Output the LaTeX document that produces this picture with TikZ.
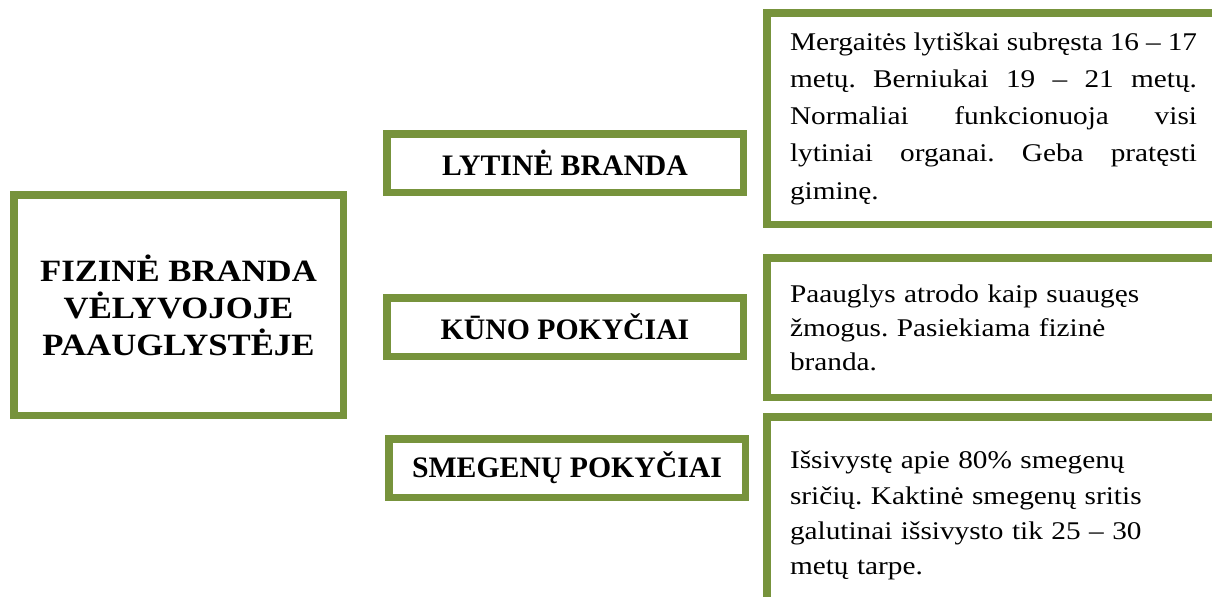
\documentclass[tikz,border=0pt]{standalone}
\usepackage{fontspec}
\setmainfont{Liberation Serif}
\newfontfamily\bodyfnt[FakeStretch=1.15]{Liberation Serif}
\newfontfamily\mainfnt[FakeStretch=1.12]{Liberation Serif}
\newdimen\pxu \pxu=0.75pt
\definecolor{boxgreen}{HTML}{77933C}
\frenchspacing
\begin{document}
\begin{tikzpicture}[x=0.75pt,y=-0.75pt,
  frame/.style={draw=boxgreen, line width=7.5\pxu, rectangle, inner sep=0pt, outer sep=0pt},
  maintitle/.style={frame, align=center, minimum width=329.5\pxu, minimum height=220.5\pxu,
     font={\mainfnt\bfseries\fontsize{23.25}{27.75}\selectfont}},
  subtitle/.style={frame, minimum width=356.5\pxu, minimum height=58.5\pxu,
     font={\bfseries\fontsize{22.3}{26}\selectfont}},
  infobox/.style={frame, anchor=north west, inner xsep=23.25\pxu, inner ysep=4\pxu,
     text width=407\pxu},
  bodytext/.style={font={\bodyfnt\fontsize{19.1}{#1}\selectfont\hyphenpenalty=10000\frenchspacing}}
]
\useasboundingbox (0,0) rectangle (1212,596);
\begin{scope}
\clip (0,0) rectangle (1212,596);
\node[maintitle] (main) at (178.5,305) {FIZINĖ BRANDA\\VĖLYVOJOJE\\PAAUGLYSTĖJE};
\node[subtitle] (lyt) at (565,163) {LYTINĖ BRANDA};
\node[subtitle] (kun) at (565,327) {KŪNO POKYČIAI};
\node[subtitle] (smg) at (567,468) {SMEGENŲ POKYČIAI};
\node[infobox, bodytext=27.9, align=justify, minimum height=211.5\pxu] (info1) at (766.75,12.75)
  {Mergaitės lytiškai subręsta 16 – 17\linebreak metų. Berniukai 19 – 21 metų.\linebreak Normaliai funkcionuoja visi\linebreak lytiniai organai. Geba pratęsti\linebreak giminę.};
\node[infobox, bodytext=25.4, align=left, minimum height=139.5\pxu] (info2) at (766.75,257.75)
  {Paauglys atrodo kaip suaugęs\\žmogus. Pasiekiama fizinė\\branda.};
\node[infobox, bodytext=26.5, align=left, minimum height=198\pxu] (info3) at (766.75,416.75)
  {Išsivystę apie 80\% smegenų\\sričių. Kaktinė smegenų sritis\\galutinai išsivysto tik 25 – 30\\metų tarpe.};
\end{scope}
\end{tikzpicture}
\end{document}
